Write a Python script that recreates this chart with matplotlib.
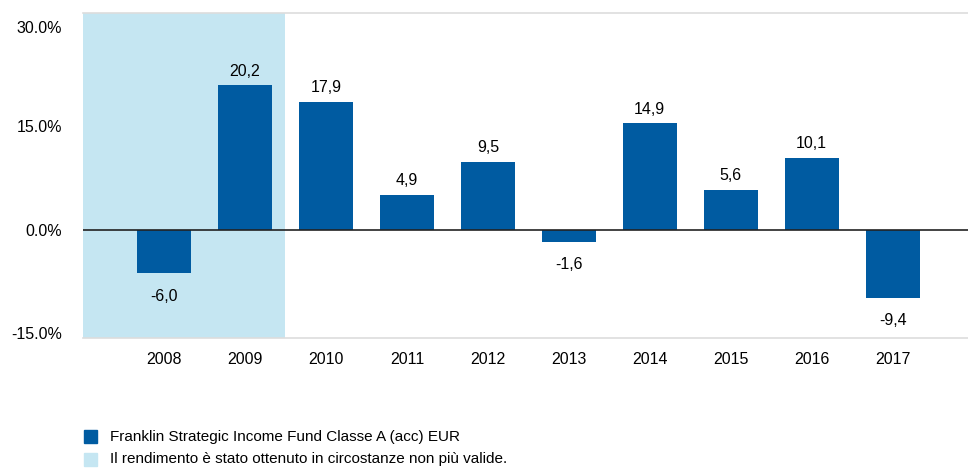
import matplotlib
matplotlib.use('Agg')
import matplotlib.pyplot as plt
from matplotlib.transforms import ScaledTranslation
import numpy as np

plt.rcParams['font.family'] = ['Liberation Sans', 'DejaVu Sans']

years = ['2008', '2009', '2010', '2011', '2012', '2013', '2014', '2015', '2016', '2017']
returns = [-6.0, 20.2, 17.9, 4.9, 9.5, -1.6, 14.9, 5.6, 10.1, -9.4]
yticks = [-15, 0, 15, 30]
legend_labels = ['Franklin Strategic Income Fund Classe A (acc) EUR',
                 'Il rendimento è stato ottenuto in circostanze non più valide.']

bar_col = '#005BA1'
shade_col = '#C5E6F2'

fig = plt.figure(figsize=(9.68, 4.71), dpi=100)
ax = fig.add_axes([83/968, 1 - 338/471, 1 - 83/968, 325/471])

x = np.arange(len(years))
ax.axvspan(-1, 1.5, color=shade_col, zorder=0, lw=0)
ax.bar(x, returns, width=0.67, color=bar_col, zorder=2)
ax.axhline(0, color='#222222', lw=1.2, zorder=3)

for xi, v in zip(x, returns):
    lab = f'{v:.1f}'.replace('.', ',')
    if v >= 0:
        ax.annotate(lab, (xi, v), xytext=(0, 5), textcoords='offset points',
                    ha='center', va='bottom', fontsize=11.5)
    else:
        ax.annotate(lab, (xi, v), xytext=(0, -11), textcoords='offset points',
                    ha='center', va='top', fontsize=11.5)

ax.set_xlim(-1, 9.93)
ax.set_ylim(-15, 30.3)
ax.set_yticks(yticks)
ax.set_yticklabels([f'{t:.1f}%' for t in yticks], fontsize=11.5)
ax.set_xticks(x)
ax.set_xticklabels(years, fontsize=11.5)
ax.tick_params(length=0)
ax.tick_params(axis='y', pad=15)
ax.tick_params(axis='x', pad=10)

# the labels in the original sit a little off their gridlines
shifts = [5, 0, -3, -12]
for lbl, dy in zip(ax.get_yticklabels(), shifts):
    lbl.set_transform(lbl.get_transform() + ScaledTranslation(0, dy / 100, fig.dpi_scale_trans))

for s in ['left', 'right']:
    ax.spines[s].set_visible(False)
for s in ['top', 'bottom']:
    ax.spines[s].set_color('#DDDDDD')
    ax.spines[s].set_linewidth(1.2)

# legend drawn as squares + text at the bottom
fig.patches.append(plt.Rectangle((84/968, 1 - 443/471), 13/968, 13/471,
                                 transform=fig.transFigure, color=bar_col))
fig.patches.append(plt.Rectangle((84/968, 1 - 466/471), 13/968, 13/471,
                                 transform=fig.transFigure, color=shade_col))
fig.text(110/968, 1 - 436.5/471, legend_labels[0], va='center', fontsize=11)
fig.text(110/968, 1 - 459.5/471, legend_labels[1], va='center', fontsize=11)

fig.savefig('out.png', dpi=100)
